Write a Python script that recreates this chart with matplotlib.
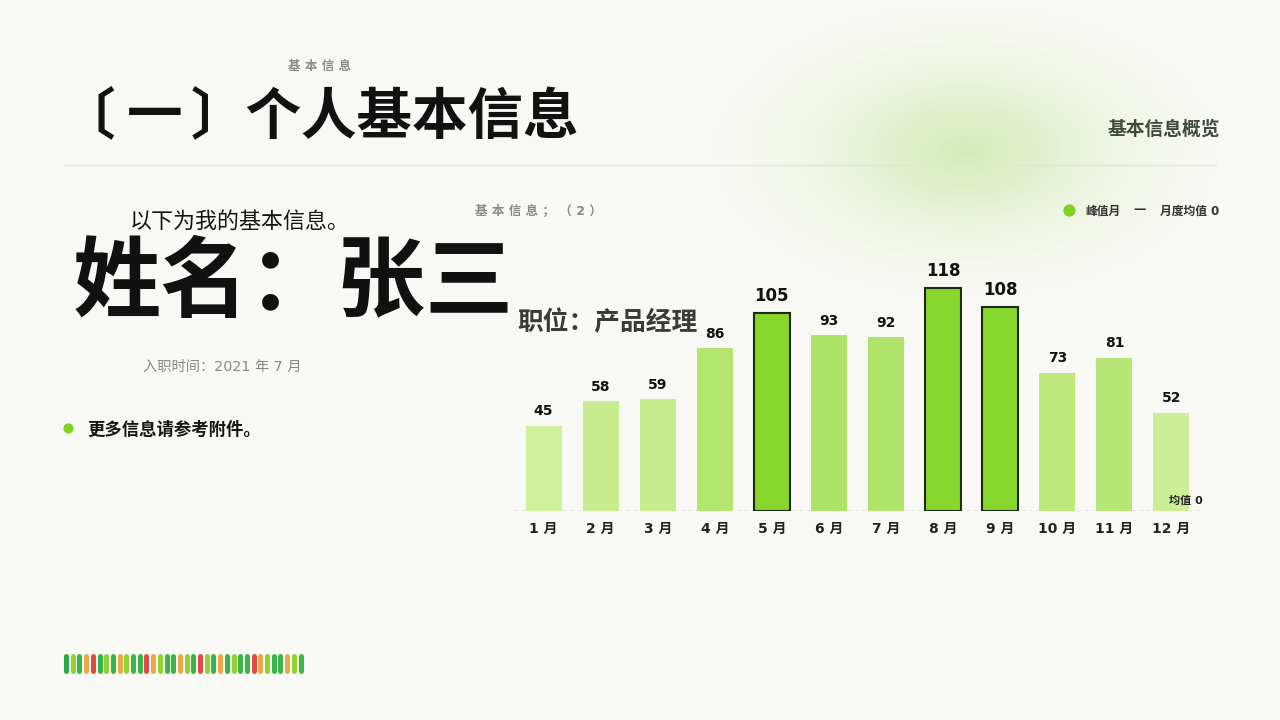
import numpy as np
import matplotlib
matplotlib.use("Agg")
import matplotlib.pyplot as plt
from matplotlib.colors import to_rgb

plt.rcParams['font.family'] = ['DejaVu Sans', 'Noto Sans CJK SC']

months = ["1 月", "2 月", "3 月", "4 月", "5 月", "6 月", "7 月", "8 月", "9 月", "10 月", "11 月", "12 月"]
values = [45, 58, 59, 86, 105, 93, 92, 118, 108, 73, 81, 52]
peak_months = ["5 月", "8 月", "9 月"]
mean_value = 0
strip_colors = ["dg", "lg", "g", "o", "r", "g", "lg", "g", "o", "lg", "g", "g", "r", "o", "lg", "g",
                "g", "o", "lg", "g", "r", "lg", "g", "o", "g", "lg", "g", "g", "r", "o", "lg", "g",
                "g", "o", "lg", "g"]

BG = "#f8f9f4"
W, H = 1280, 720
fig = plt.figure(figsize=(12.8, 7.2), dpi=100, facecolor=BG)

# background glow
bg = fig.add_axes([0, 0, 1, 1], zorder=0)
bg.set_xlim(0, W); bg.set_ylim(H, 0); bg.axis("off")
xx, yy = np.meshgrid(np.arange(W), np.arange(H))
d = np.sqrt(((xx - 965) / 250.0) ** 2 + ((yy - 150) / 145.0) ** 2)
a = np.clip(1 - d, 0, 1) ** 1.4
base = np.array(to_rgb(BG)); glow = np.array(to_rgb("#d6ebb8"))
img = base[None, None, :] * (1 - a[..., None]) + glow[None, None, :] * a[..., None]
bg.imshow(img, extent=[0, W, H, 0], aspect="auto", zorder=0)

def ft(x, y, s, **kw):
    bg.text(x, y, s, **kw)

# header
ft(320, 66, "基 本 信 息", fontsize=9, color="#8a8a8a", fontweight="bold", ha="center", va="center")
title_kw = dict(fontsize=40, color="#111111", fontweight="bold", ha="left", va="center")
ft(60, 118, "〔", **title_kw)
ft(127, 118, "一", **title_kw)
ft(191, 118, "〕个人基本信息", **title_kw)
ft(1220, 129, "基本信息概览", fontsize=13.5, color="#3d4a3d", fontweight="bold", ha="right", va="center")
bg.plot([64, 1216], [165, 165], color="#e2e4de", lw=1)

# left texts
ft(130, 221, "以下为我的基本信息。", fontsize=15.8, color="#151515", ha="left", va="center")
ft(73, 286, "姓名：张三", fontsize=63.5, color="#111111", fontweight="bold", ha="left", va="center")
ft(143, 367, "入职时间：2021 年 7 月", fontsize=10.3, color="#888888", ha="left", va="center")
bg.scatter([68], [428], s=40, color="#7ed321", zorder=3)
ft(87, 430, "更多信息请参考附件。", fontsize=12.5, color="#151515", fontweight="bold", ha="left", va="center")
ft(517, 323, "职位：产品经理", fontsize=18.5, color="#3a3a3a", fontweight="bold", ha="left", va="center", zorder=5)

# chart subtitle and legend
ft(475, 211, "基 本 信 息 ； （ 2 ）", fontsize=9, color="#8a8a8a", fontweight="bold", ha="left", va="center")
bg.scatter([1069], [210], s=60, color="#7ed321", zorder=3)
ft(1085, 211, "峰值月", fontsize=8.5, color="#333333", fontweight="bold", ha="left", va="center")
ft(1133, 210, "—", fontsize=9, color="#333333", fontweight="bold", ha="left", va="center")
ft(1160, 211, "月度均值 0", fontsize=8.5, color="#333333", fontweight="bold", ha="left", va="center")

# color strip
cmap = {"dg": "#2fa84a", "g": "#3bb54a", "lg": "#8fd42e", "o": "#eaa84a", "r": "#e04a45"}
for i, c in enumerate(strip_colors):
    x = 66 + i * 6.7
    bg.plot([x, x], [656, 671], color=cmap[c], lw=3.6, solid_capstyle="round")

# chart axes
ax = fig.add_axes([515 / W, (720 - 511) / H, 685 / W, 245.7 / H], zorder=2)
ax.set_facecolor("none")
ax.set_xlim(-0.5, 11.5)
ax.set_ylim(0, 130)
for s in ax.spines.values():
    s.set_visible(False)
ax.set_yticks([])
x = np.arange(len(months))
ax.set_xticks(x)
ax.set_xticklabels(months, fontsize=10, fontweight="bold", color="#222222")
ax.tick_params(axis="x", length=0, pad=8)

light = np.array(to_rgb("#d0f09c")); dark = np.array(to_rgb("#9cdc4f"))
vmin, vmax = min(values), max(values)
for i, (m, v) in enumerate(zip(months, values)):
    peak = m in peak_months
    if peak:
        col = "#86d62b"; ec = "#1c2a12"; lw = 1.5
    else:
        t = (v - vmin) / (vmax - vmin)
        col = tuple(light * (1 - t) + dark * t); ec = "none"; lw = 0
    ax.bar(i, v, width=0.63, color=col, edgecolor=ec, linewidth=lw, zorder=2)
    ax.text(i, v + 4, str(v), ha="center", va="bottom",
            fontsize=12 if peak else 10, fontweight="bold", color="#111111")

ax.axhline(mean_value, color="#8a8a8a", lw=1, ls=(0, (2, 3)), zorder=1)
ax.text(11.55, 3, "均值 0", ha="right", va="bottom", fontsize=8, fontweight="bold", color="#222222")

fig.savefig("out.png", dpi=100, facecolor=BG)
